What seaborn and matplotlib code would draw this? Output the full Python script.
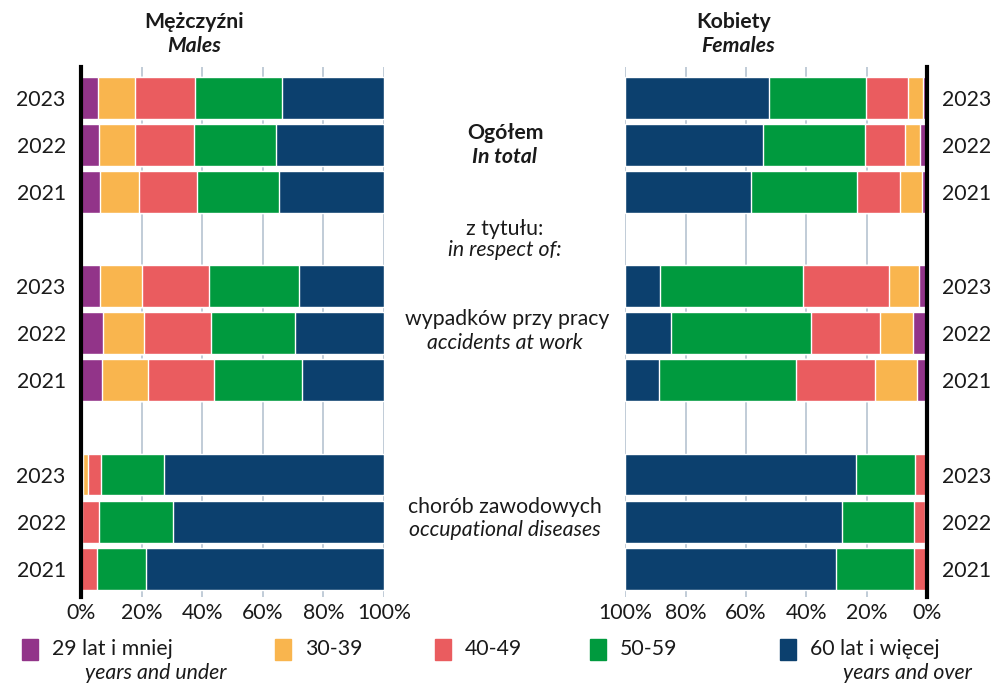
import pandas as pd
import numpy as np
import matplotlib.pyplot as plt
import seaborn as sns
from matplotlib.patches import Rectangle

# data (shares in %, order: 29-, 30-39, 40-49, 50-59, 60+)
ages = ['29 lat i mniej', '30-39', '40-49', '50-59', '60 lat i więcej']
colors = ['#923489', '#f9b54e', '#ea5c5f', '#009a3e', '#0c406e']
years = ['2023', '2022', '2021']

male_total = [[5.6, 12.3, 19.8, 28.5, 33.8],
              [6.0, 11.9, 19.5, 27.1, 35.5],
              [6.3, 12.9, 19.2, 26.8, 34.8]]
male_accidents = [[6.3, 13.9, 22.1, 29.8, 27.9],
                  [7.3, 13.5, 22.2, 27.5, 29.5],
                  [6.9, 15.3, 21.8, 28.8, 27.2]]
male_diseases = [[0.5, 1.8, 4.3, 20.9, 72.5],
                 [0.0, 0.3, 5.7, 24.4, 69.6],
                 [0.0, 0.0, 5.3, 16.2, 78.5]]

female_total = [[1.2, 5.1, 13.9, 32.2, 47.6],
                [2.3, 5.0, 13.3, 33.8, 45.6],
                [1.7, 7.3, 14.2, 35.1, 41.7]]
female_accidents = [[2.7, 9.9, 28.5, 47.4, 11.5],
                    [4.6, 11.0, 22.9, 46.4, 15.1],
                    [3.3, 13.9, 26.2, 45.4, 11.2]]
female_diseases = [[0.0, 0.0, 4.0, 19.5, 76.5],
                   [0.0, 0.5, 3.8, 23.9, 71.8],
                   [0.0, 0.0, 4.3, 25.9, 69.8]]

groups = ['total', 'accidents', 'diseases']
row_order = ['total 2023', 'total 2022', 'total 2021', 'gap1',
             'accidents 2023', 'accidents 2022', 'accidents 2021', 'gap2',
             'diseases 2023', 'diseases 2022', 'diseases 2021']

rows = []
for sex, tables in [('M', [male_total, male_accidents, male_diseases]),
                    ('F', [female_total, female_accidents, female_diseases])]:
    for g, table in zip(groups, tables):
        for y, vals in zip(years, table):
            cum = np.cumsum(vals)
            for k, a in enumerate(ages):
                rows.append({'sex': sex, 'row': f'{g} {y}', 'age': k, 'cum': cum[k]})
df = pd.DataFrame(rows)

sns.set_style('white')
plt.rcParams['font.family'] = ['Lato', 'DejaVu Sans']
FS = 15.3

W, H = 998, 683
fig = plt.figure(figsize=(W / 100, H / 100), dpi=100)
ax_m = fig.add_axes([81 / W, 1 - 597 / H, 303 / W, 530 / H])
ax_f = fig.add_axes([625.3 / W, 1 - 597 / H, 301.7 / W, 530 / H])

for ax, sex in [(ax_m, 'M'), (ax_f, 'F')]:
    sub = df[df.sex == sex]
    # draw from the widest cumulative layer down so each smaller one sits on top
    for k in reversed(range(len(ages))):
        sns.barplot(data=sub[sub.age == k], x='cum', y='row', order=row_order,
                    color=colors[k], saturation=1, orient='h', width=0.89,
                    errorbar=None, ax=ax, zorder=2)
    ax.set_ylim(10.6, -0.65)
    ax.set_xticks([0, 20, 40, 60, 80, 100])
    ax.set_xticklabels(['0%', '20%', '40%', '60%', '80%', '100%'])
    ax.grid(axis='x', color='#bcc8d4', linewidth=1.3)
    ax.grid(axis='y', visible=False)
    ax.set_axisbelow(True)
    ax.set_xlabel('')
    ax.set_ylabel('')
    pos = [i for i, r in enumerate(row_order) if not r.startswith('gap')]
    ax.set_yticks(pos)
    ax.set_yticklabels([row_order[i].split()[1] for i in pos])
    ax.tick_params(axis='both', length=0, labelsize=FS, colors='#1a1a1a')
    ax.tick_params(axis='y', pad=11)
    ax.tick_params(axis='x', pad=4)
    for s in ax.spines.values():
        s.set_visible(False)

ax_m.set_xlim(0, 100)
ax_m.spines['left'].set_visible(True)
ax_m.spines['left'].set_color('black')
ax_m.spines['left'].set_linewidth(3)
ax_m.spines['left'].set_zorder(5)

ax_f.set_xlim(100, 0)
ax_f.yaxis.tick_right()
ax_f.spines['right'].set_visible(True)
ax_f.spines['right'].set_color('black')
ax_f.spines['right'].set_linewidth(3)
ax_f.spines['right'].set_zorder(5)
ax_f.tick_params(axis='y', pad=11, length=0)


def ftext(x, y, s, **kw):
    fig.text(x / W, 1 - y / H, s, ha=kw.pop('ha', 'center'), va='center',
             fontsize=kw.pop('fontsize', FS), color='#1a1a1a', **kw)


# headers
ftext(194, 22, 'Mężczyźni', fontweight='bold')
ftext(194, 46, 'Males', fontweight='bold', fontstyle='italic')
ftext(734, 22, 'Kobiety', fontweight='bold')
ftext(738, 46, 'Females', fontweight='bold', fontstyle='italic')

# centre labels
ftext(505, 133, 'Ogółem', fontweight='bold')
ftext(505, 157, 'In total', fontweight='bold', fontstyle='italic')
ftext(505, 229, 'z tytułu:')
ftext(505, 250, 'in respect of:', fontstyle='italic')
ftext(507, 319, 'wypadków przy pracy')
ftext(505, 343, 'accidents at work', fontstyle='italic')
ftext(505, 507, 'chorób zawodowych')
ftext(505, 530, 'occupational diseases', fontstyle='italic')

# legend
leg_x = [22, 275, 435, 590, 780]
for x, c, lab in zip(leg_x, colors, ages):
    fig.patches.append(Rectangle((x / W, 1 - 660 / H), 16 / W, 21 / H,
                                 transform=fig.transFigure, color=c))
    ftext(x + 30, 649, lab, ha='left')
ftext(85, 673, 'years and under', ha='left', fontstyle='italic')
ftext(972, 673, 'years and over', ha='right', fontstyle='italic')

fig.savefig('out.png', dpi=100)
